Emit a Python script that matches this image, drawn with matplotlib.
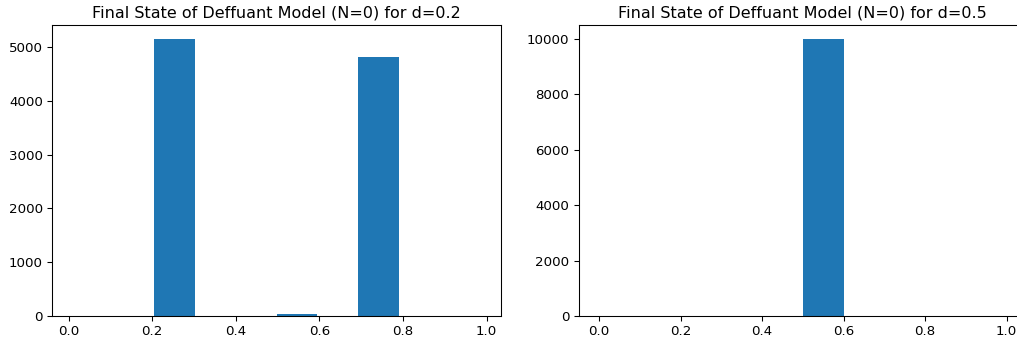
import numpy as np
import matplotlib.pyplot as plt

# histogram counts (10 bins each)
edges_d02 = np.linspace(0.0095, 0.985, 11)
counts_d02 = [0, 0, 5150, 0, 0, 30, 0, 4820, 0, 0]

edges_d05 = np.linspace(0.0, 1.0, 11)
counts_d05 = [0, 0, 0, 0, 0, 10000, 0, 0, 0, 0]

titles = ["Final State of Deffuant Model (N=0) for d=0.2",
          "Final State of Deffuant Model (N=0) for d=0.5"]

W, H = 1017, 345
fig = plt.figure(figsize=(W / 96, H / 96), dpi=96)
ax1 = fig.add_axes([52.3 / W, 1 - 316 / H, (500.7 - 52.3) / W, (316 - 25) / H])
# the right panel runs past the image edge in the original
ax2 = fig.add_axes([578.6 / W, 1 - 316 / H, (1027 - 578.6) / W, (316 - 25) / H])

for ax, edges, counts, title in [(ax1, edges_d02, counts_d02, titles[0]),
                                 (ax2, edges_d05, counts_d05, titles[1])]:
    ax.hist(edges[:-1], bins=edges, weights=counts, color='#1f77b4')
    ax.set_title(title, fontsize=12)
    ax.tick_params(labelsize=10)
    ax.set_xticks([0.0, 0.2, 0.4, 0.6, 0.8, 1.0])

fig.savefig('out.png', dpi=96)
